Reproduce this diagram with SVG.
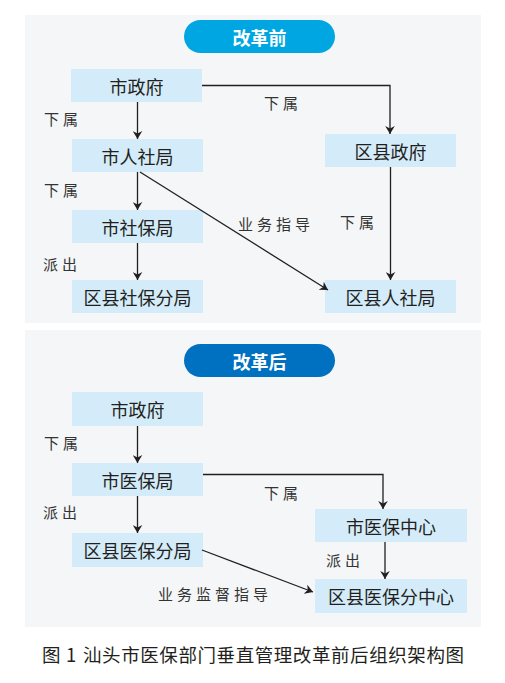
<svg xmlns="http://www.w3.org/2000/svg" width="505" height="683" viewBox="0 0 505 683">
<defs>
<marker id="ah" viewBox="0 0 10 12" refX="10" refY="6" markerWidth="8" markerHeight="10" markerUnits="userSpaceOnUse" orient="auto">
<path d="M0,0 L10,6 L0,12 L3,6 Z" fill="#231f20"/>
</marker>
<style>
.panel{fill:#f4f6f7}
.box{fill:#d4ecf9}
.bt{font-family:"Noto Sans CJK SC","Noto Sans",sans-serif;font-size:18px;fill:#231f20;text-anchor:middle;dominant-baseline:central}
.pt{font-family:"Noto Sans CJK SC","Noto Sans",sans-serif;font-size:18px;font-weight:bold;fill:#ffffff;text-anchor:middle;dominant-baseline:central}
.lb{font-family:"Noto Sans CJK SC","Noto Sans",sans-serif;font-size:15px;fill:#333333;letter-spacing:4px;dominant-baseline:central}
.ln{fill:none;stroke:#231f20;stroke-width:1.3}
.cap{font-family:"Noto Sans CJK SC","Noto Sans",sans-serif;font-size:18.5px;fill:#231f20;dominant-baseline:central}
</style>
</defs>
<rect width="505" height="683" fill="#ffffff"/>
<rect class="panel" x="25" y="15" width="456" height="308"/>
<rect class="panel" x="25" y="330" width="456" height="297"/>

<g id="pill-before"><rect x="184" y="20" width="151" height="33" rx="16.5" fill="#00a6e2"/><text class="pt" x="259.5" y="36.5">改革前</text></g>
<g id="n1"><rect class="box" x="71" y="69" width="131" height="33"/><text class="bt" x="136.5" y="85.5">市政府</text></g>
<g id="n2"><rect class="box" x="72" y="139" width="131" height="33"/><text class="bt" x="137.5" y="155.5">市人社局</text></g>
<g id="n3"><rect class="box" x="72" y="210" width="131" height="33"/><text class="bt" x="137.5" y="226.5">市社保局</text></g>
<g id="n4"><rect class="box" x="72" y="280" width="131" height="33"/><text class="bt" x="137.5" y="296.5">区县社保分局</text></g>
<g id="n5"><rect class="box" x="325" y="134" width="131" height="33"/><text class="bt" x="390.5" y="150.5">区县政府</text></g>
<g id="n6"><rect class="box" x="325" y="280" width="131" height="33"/><text class="bt" x="390.5" y="296.5">区县人社局</text></g>

<g id="pill-after"><rect x="184" y="344" width="151" height="33" rx="16.5" fill="#0071c0"/><text class="pt" x="259.5" y="360.5">改革后</text></g>
<g id="m1"><rect class="box" x="72" y="392" width="131" height="34"/><text class="bt" x="137.5" y="409">市政府</text></g>
<g id="m2"><rect class="box" x="72" y="463" width="131" height="33"/><text class="bt" x="137.5" y="479.5">市医保局</text></g>
<g id="m3"><rect class="box" x="72" y="533" width="131" height="34"/><text class="bt" x="137.5" y="550">区县医保分局</text></g>
<g id="m4"><rect class="box" x="315" y="509" width="152" height="33"/><text class="bt" x="391" y="525.5">市医保中心</text></g>
<g id="m5"><rect class="box" x="315" y="579" width="152" height="34"/><text class="bt" x="391" y="596">区县医保分中心</text></g>

<g id="connectors">
<path class="ln" d="M137.5,102 V139" marker-end="url(#ah)"/>
<path class="ln" d="M202,85.5 H390 V134" marker-end="url(#ah)"/>
<path class="ln" d="M137.5,172 V210" marker-end="url(#ah)"/>
<path class="ln" d="M137.5,243 V280" marker-end="url(#ah)"/>
<path class="ln" d="M390.5,167 V280" marker-end="url(#ah)"/>
<path class="ln" d="M140,172 L328,290" marker-end="url(#ah)"/>
<path class="ln" d="M137.5,426 V463" marker-end="url(#ah)"/>
<path class="ln" d="M137.5,496 V533" marker-end="url(#ah)"/>
<path class="ln" d="M203,474.5 H383 V509" marker-end="url(#ah)"/>
<path class="ln" d="M385,542 V579" marker-end="url(#ah)"/>
<path class="ln" d="M202,550 L313,592" marker-end="url(#ah)"/>
</g>

<g id="labels">
<text class="lb" x="44" y="118">下属</text>
<text class="lb" x="264" y="102">下属</text>
<text class="lb" x="44" y="189">下属</text>
<text class="lb" x="43" y="263">派出</text>
<text class="lb" x="238" y="223">业务指导</text>
<text class="lb" x="340" y="221">下属</text>
<text class="lb" x="44" y="442">下属</text>
<text class="lb" x="43" y="511">派出</text>
<text class="lb" x="264" y="492">下属</text>
<text class="lb" x="326" y="559">派出</text>
<text class="lb" x="158" y="593">业务监督指导</text>
</g>
<g id="caption">
<text class="cap" x="42" y="654">图</text>
<text class="cap" x="66" y="654">1</text>
<text class="cap" x="83" y="654" textLength="381" lengthAdjust="spacing">汕头市医保部门垂直管理改革前后组织架构图</text>
</g>
</svg>
